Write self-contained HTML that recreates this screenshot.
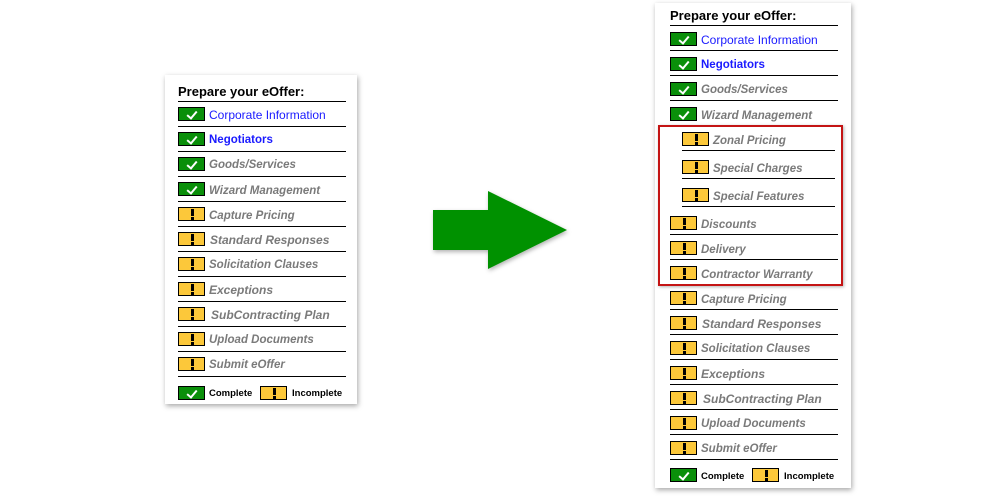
<!DOCTYPE html>
<html><head><meta charset="utf-8"><style>
*{margin:0;padding:0;box-sizing:border-box}
body{width:1000px;height:500px;background:#fff;position:relative;overflow:hidden;font-family:"Liberation Sans",Arial,sans-serif}
.p{position:absolute;background:#fff;box-shadow:1px 2px 5px rgba(0,0,0,.35)}
.a{position:absolute}
.t{position:absolute;font-weight:bold;font-size:13px;color:#000}
.ln{position:absolute;height:1px;background:#000}
.ic{position:absolute;width:27px;height:14px;border:1px solid #000}
.g{background:#0a8f0a}
.y{background:#fcc83a}
.g::after{content:"";position:absolute;left:10px;top:1px;width:4px;height:8px;border-right:2px solid #fff;border-bottom:2px solid #fff;transform:rotate(40deg)}
.y::after{content:"";position:absolute;left:12px;top:1px;width:3px;height:7px;background:#000}
.y::before{content:"";position:absolute;left:12px;top:9px;width:3px;height:3px;background:#000}
.x{position:absolute;font-size:11.5px;font-style:italic;font-weight:bold;color:#7a7a7a;white-space:nowrap;line-height:13px}
.bl{position:absolute;font-size:12px;color:#1a1aff;white-space:nowrap;line-height:13px}
.lg{position:absolute;font-size:9.5px;font-weight:bold;color:#000;line-height:13px}
</style></head><body>

<!-- LEFT PANEL -->
<div class="p" style="left:165px;top:75px;width:192px;height:329px"></div>
<div class="t" style="left:178px;top:84px">Prepare your eOffer:</div>
<div class="ln" style="left:178px;top:101px;width:168px"></div>

<div class="ic g" style="left:178px;top:107px"></div><div class="bl" style="left:209px;top:109px">Corporate Information</div><div class="ln" style="left:178px;top:126px;width:168px"></div>
<div class="ic g" style="left:178px;top:132px"></div><div class="bl" style="left:209px;top:134px;font-weight:bold;font-size:11.5px">Negotiators</div><div class="ln" style="left:178px;top:151px;width:168px"></div>
<div class="ic g" style="left:178px;top:157px"></div><div class="x" style="left:209px;top:159px">Goods/Services</div><div class="ln" style="left:178px;top:176px;width:168px"></div>
<div class="ic g" style="left:178px;top:182px"></div><div class="x" style="left:209px;top:185px">Wizard Management</div><div class="ln" style="left:178px;top:201px;width:168px"></div>
<div class="ic y" style="left:178px;top:207px"></div><div class="x" style="left:209px;top:210px">Capture Pricing</div><div class="ln" style="left:178px;top:226px;width:168px"></div>
<div class="ic y" style="left:178px;top:232px"></div><div class="x" style="left:210px;top:234px;font-size:12px">Standard Responses</div><div class="ln" style="left:178px;top:251px;width:168px"></div>
<div class="ic y" style="left:178px;top:257px"></div><div class="x" style="left:209px;top:259px">Solicitation Clauses</div><div class="ln" style="left:178px;top:276px;width:168px"></div>
<div class="ic y" style="left:178px;top:282px"></div><div class="x" style="left:209px;top:284px;font-size:12px">Exceptions</div><div class="ln" style="left:178px;top:301px;width:168px"></div>
<div class="ic y" style="left:178px;top:307px"></div><div class="x" style="left:211px;top:309px;font-size:12px">SubContracting Plan</div><div class="ln" style="left:178px;top:326px;width:168px"></div>
<div class="ic y" style="left:178px;top:332px"></div><div class="x" style="left:209px;top:334px">Upload Documents</div><div class="ln" style="left:178px;top:351px;width:168px"></div>
<div class="ic y" style="left:178px;top:357px"></div><div class="x" style="left:209px;top:359px">Submit eOffer</div><div class="ln" style="left:178px;top:376px;width:168px"></div>

<div class="ic g" style="left:178px;top:386px"></div><div class="lg" style="left:209px;top:387px">Complete</div>
<div class="ic y" style="left:260px;top:386px"></div><div class="lg" style="left:292px;top:387px">Incomplete</div>

<!-- ARROW -->
<svg class="a" style="left:0;top:0" width="1000" height="500">
<defs><filter id="s" x="-20%" y="-20%" width="140%" height="140%"><feDropShadow dx="1" dy="2" stdDeviation="2" flood-opacity=".3"/></filter></defs>
<polygon points="433,210 488,210 488,191 567,230 488,269 488,250 433,250" fill="#009100" filter="url(#s)"/>
</svg>

<!-- RIGHT PANEL -->
<div class="p" style="left:655px;top:3px;width:196px;height:485px"></div>
<div class="t" style="left:670px;top:8px">Prepare your eOffer:</div>
<div class="ln" style="left:670px;top:25px;width:168px"></div>

<div class="ic g" style="left:670px;top:32px"></div><div class="bl" style="left:701px;top:34px">Corporate Information</div><div class="ln" style="left:670px;top:50px;width:168px"></div>
<div class="ic g" style="left:670px;top:57px"></div><div class="bl" style="left:701px;top:59px;font-weight:bold;font-size:11.5px">Negotiators</div><div class="ln" style="left:670px;top:75px;width:168px"></div>
<div class="ic g" style="left:670px;top:82px"></div><div class="x" style="left:701px;top:84px">Goods/Services</div><div class="ln" style="left:670px;top:100px;width:168px"></div>
<div class="ic g" style="left:670px;top:107px"></div><div class="x" style="left:701px;top:110px">Wizard Management</div>

<div class="a" style="left:658px;top:125px;width:185px;height:161px;border:2.5px solid #c41414;box-shadow:1px 1px 3px rgba(0,0,0,.3)"></div>
<div class="ic y" style="left:682px;top:132px"></div><div class="x" style="left:713px;top:135px">Zonal Pricing</div><div class="ln" style="left:682px;top:150px;width:153px"></div>
<div class="ic y" style="left:682px;top:160px"></div><div class="x" style="left:713px;top:163px">Special Charges</div><div class="ln" style="left:682px;top:178px;width:153px"></div>
<div class="ic y" style="left:682px;top:188px"></div><div class="x" style="left:713px;top:191px">Special Features</div><div class="ln" style="left:682px;top:206px;width:153px"></div>
<div class="ic y" style="left:670px;top:216px"></div><div class="x" style="left:701px;top:219px">Discounts</div><div class="ln" style="left:670px;top:234px;width:168px"></div>
<div class="ic y" style="left:670px;top:241px"></div><div class="x" style="left:701px;top:244px">Delivery</div><div class="ln" style="left:670px;top:259px;width:168px"></div>
<div class="ic y" style="left:670px;top:266px"></div><div class="x" style="left:701px;top:269px">Contractor Warranty</div>

<div class="ic y" style="left:670px;top:291px"></div><div class="x" style="left:701px;top:294px">Capture Pricing</div><div class="ln" style="left:670px;top:309px;width:168px"></div>
<div class="ic y" style="left:670px;top:316px"></div><div class="x" style="left:702px;top:318px;font-size:12px">Standard Responses</div><div class="ln" style="left:670px;top:334px;width:168px"></div>
<div class="ic y" style="left:670px;top:341px"></div><div class="x" style="left:701px;top:343px">Solicitation Clauses</div><div class="ln" style="left:670px;top:359px;width:168px"></div>
<div class="ic y" style="left:670px;top:366px"></div><div class="x" style="left:701px;top:368px;font-size:12px">Exceptions</div><div class="ln" style="left:670px;top:384px;width:168px"></div>
<div class="ic y" style="left:670px;top:391px"></div><div class="x" style="left:703px;top:393px;font-size:12px">SubContracting Plan</div><div class="ln" style="left:670px;top:409px;width:168px"></div>
<div class="ic y" style="left:670px;top:416px"></div><div class="x" style="left:701px;top:418px">Upload Documents</div><div class="ln" style="left:670px;top:434px;width:168px"></div>
<div class="ic y" style="left:670px;top:441px"></div><div class="x" style="left:701px;top:443px">Submit eOffer</div><div class="ln" style="left:670px;top:459px;width:168px"></div>

<div class="ic g" style="left:670px;top:468px"></div><div class="lg" style="left:701px;top:470px">Complete</div>
<div class="ic y" style="left:752px;top:468px"></div><div class="lg" style="left:784px;top:470px">Incomplete</div>

</body></html>
